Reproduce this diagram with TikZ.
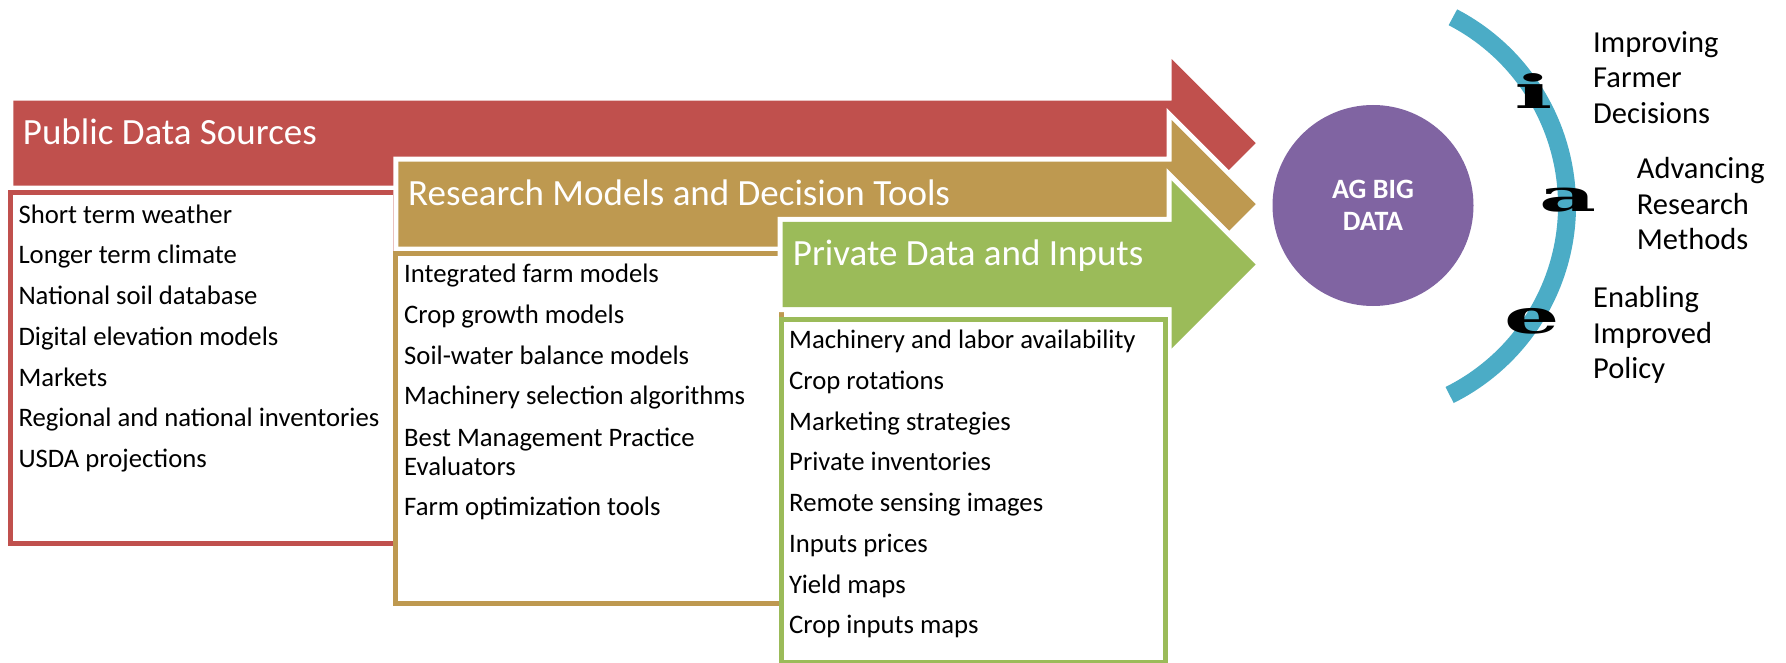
\documentclass[tikz,border=0pt]{standalone}
\usepackage{fontspec}
\usepackage{graphicx}
\setmainfont{Carlito}
\newfontfamily\slabfont{DejaVu Serif}

\definecolor{pubred}{HTML}{C0504D}
\definecolor{resgold}{HTML}{BE9950}
\definecolor{privgreen}{HTML}{9BBB59}
\definecolor{bigpurple}{HTML}{8064A2}
\definecolor{ringteal}{HTML}{4BACC6}

% Block arrow: left edge, centre line, colour
\newcommand\flowarrow[3]{%
  \path[fill=#3, preaction={draw=white, line width=10pt, line join=miter}]
    (#1,#2-42.5) -- (1171.7,#2-42.5) -- (1171.7,#2-84) -- (1255.7,#2)
    -- (1171.7,#2+84) -- (1171.7,#2+42.5) -- (#1,#2+42.5) -- cycle;}

\tikzset{
  header/.style={anchor=base west, inner sep=0pt, text=white,
                 font=\fontsize{37}{44}\selectfont},
  item/.style={anchor=base west, inner sep=0pt, text=black,
               font=\fontsize{26.7}{29}\selectfont},
  listbox/.style={fill=white, line width=5pt},
  goal/.style={anchor=base west, inner sep=0pt, text=black, align=left,
               font=\fontsize{30.5}{35.3}\selectfont},
  initial/.style={anchor=base, inner sep=0pt, text=black},
}

\begin{document}
\begin{tikzpicture}[x=1pt, y=-1pt]
\useasboundingbox (0,0) rectangle (1786,663);

% Public data sources
\flowarrow{13.3}{143.2}{pubred}
\node[header] (pubhead) at (22.7,145) {Public Data Sources};
\draw[listbox, draw=pubred] (10.8,192.5) rectangle (395,543.5);
\foreach \t [count=\i from 0] in {Short term weather, Longer term climate,
    National soil database, Digital elevation models, Markets,
    Regional and national inventories, USDA projections}
  \node[item] (pub\i) at (18.3,223.3+40.7*\i) {\t};

% Research models and decision tools
\flowarrow{398.3}{204.2}{resgold}
\node[header] (reshead) at (408,205.5) {Research Models and Decision Tools};
\draw[listbox, draw=resgold] (395,253.5) rectangle (781,603.8);
\node[item] (res0) at (404,282.7) {Integrated farm models};
\node[item] (res1) at (404,323.4) {Crop growth models};
\node[item] (res2) at (404,364.1) {Soil-water balance models};
\node[item] (res3) at (404,404.8) {Machinery selection algorithms};
\node[item] (res4) at (404,446.5) {Best Management Practice};
\node[item] (res4b) at (404,475) {Evaluators};
\node[item] (res5) at (404,515.3) {Farm optimization tools};

% Private data and inputs
\flowarrow{782.7}{264.5}{privgreen}
\node[header] (privhead) at (792.7,265.5) {Private Data and Inputs};
\draw[listbox, draw=privgreen] (781,319.5) rectangle (1165.5,662);
\foreach \t [count=\i from 0] in {Machinery and labor availability,
    Crop rotations, Marketing strategies, Private inventories,
    Remote sensing images, Inputs prices, Yield maps, Crop inputs maps}
  \node[item] (priv\i) at (789,348.5+40.75*\i) {\t};

% Ag big data hub
\node[circle, fill=bigpurple, minimum size=201pt, inner sep=0pt,
      text=white, align=center,
      font=\bfseries\fontsize{28}{31.7}\selectfont] (hub) at (1373,205.5)
      {AG BIG\\DATA};

% Outcome ring
\coordinate (ringc) at (1355,205.3);
\draw[ringteal, line width=18pt] (ringc) ++(-62.5:212) arc[start angle=-62.5, end angle=63.5, radius=212];

\node[initial, font=\slabfont\bfseries\fontsize{46}{46}\selectfont] (li) at (1534,108.3) {\scalebox{2.2}[1]{i}};
\node[initial, font=\slabfont\bfseries\fontsize{44}{44}\selectfont] (la) at (1568,211.7) {\scalebox{2.0}[1]{a}};
\node[initial, font=\slabfont\bfseries\fontsize{47}{47}\selectfont] (le) at (1532,333.3) {\scalebox{1.85}[1]{e}};

% Outcomes (anchored at the baseline of the last line)
\node[goal] (g1) at (1593,123.3) {Improving\\Farmer\\Decisions};
\node[goal] (g2) at (1636.7,249.3) {Advancing\\Research\\Methods};
\node[goal] (g3) at (1593,378.3) {Enabling\\Improved\\Policy};
\end{tikzpicture}
\end{document}
